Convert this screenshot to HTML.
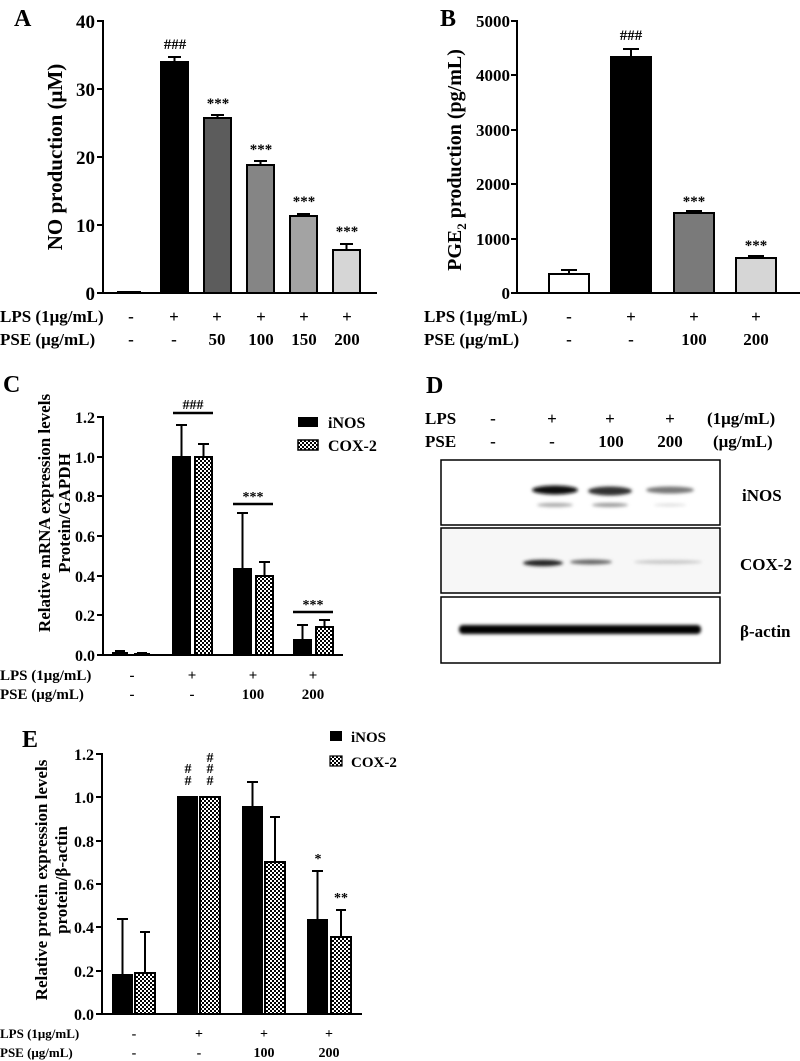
<!DOCTYPE html>
<html><head><meta charset="utf-8">
<style>
html,body{margin:0;padding:0;background:#fff;}
svg{display:block;}
text{font-family:"Liberation Serif",serif;font-weight:bold;fill:#000;}
</style></head>
<body>
<svg width="800" height="1061" viewBox="0 0 800 1061" xmlns="http://www.w3.org/2000/svg">
<defs>
<pattern id="chk" width="4" height="4" patternUnits="userSpaceOnUse">
<rect width="4" height="4" fill="#fff"/><rect width="2" height="2" fill="#000"/><rect x="2" y="2" width="2" height="2" fill="#000"/>
</pattern>
<filter id="bl" x="-10%" y="-100%" width="120%" height="300%"><feGaussianBlur stdDeviation="1.6"/></filter>
</defs>

<!-- ============ Panel A ============ -->
<text x="14" y="26" font-size="24">A</text>
<g stroke="#000" stroke-width="2" fill="none">
<line x1="103" y1="20" x2="103" y2="294"/>
<line x1="102" y1="293" x2="377" y2="293"/>
<line x1="97" y1="21" x2="103" y2="21"/><line x1="97" y1="89" x2="103" y2="89"/>
<line x1="97" y1="157" x2="103" y2="157"/><line x1="97" y1="225" x2="103" y2="225"/>
<line x1="97" y1="293" x2="103" y2="293"/>
</g>
<g font-size="19" text-anchor="end">
<text x="95" y="28">40</text><text x="95" y="96">30</text><text x="95" y="164">20</text><text x="95" y="232">10</text><text x="95" y="300">0</text>
</g>
<text transform="translate(62,157) rotate(-90)" font-size="21" text-anchor="middle">NO production (μM)</text>
<g stroke="#000" stroke-width="2">
<line x1="117" y1="292" x2="141" y2="292"/>
<rect x="161" y="62" width="27" height="231" fill="#000"/>
<rect x="204" y="118" width="27" height="175" fill="#5c5c5c"/>
<rect x="247" y="165" width="27" height="128" fill="#858585"/>
<rect x="290" y="216" width="27" height="77" fill="#a3a3a3"/>
<rect x="333" y="250" width="27" height="43" fill="#d6d6d6"/>
<path d="M174.5 62V57M168 57h13M217.5 118V115M211 115h13M260.5 165V161M254 161h13M303.5 216V214M297 214h13M346.5 250V244M340 244h13" fill="none"/>
</g>
<g font-size="15" text-anchor="middle">
<text x="175" y="49">###</text>
<text x="218" y="108">***</text><text x="261" y="154">***</text><text x="304" y="206">***</text><text x="347" y="236">***</text>
</g>
<g font-size="17">
<text x="0" y="322">LPS (1μg/mL)</text><text x="0" y="345">PSE (μg/mL)</text>
</g>
<g font-size="17" text-anchor="middle">
<text x="131" y="322">-</text><text x="174" y="322">+</text><text x="217" y="322">+</text><text x="261" y="322">+</text><text x="304" y="322">+</text><text x="347" y="322">+</text>
<text x="131" y="345">-</text><text x="174" y="345">-</text><text x="217" y="345">50</text><text x="261" y="345">100</text><text x="304" y="345">150</text><text x="347" y="345">200</text>
</g>

<!-- ============ Panel B ============ -->
<text x="440" y="26" font-size="24">B</text>
<g stroke="#000" stroke-width="2" fill="none">
<line x1="517" y1="20" x2="517" y2="294"/>
<line x1="516" y1="293" x2="800" y2="293"/>
<line x1="511" y1="21" x2="517" y2="21"/><line x1="511" y1="75" x2="517" y2="75"/>
<line x1="511" y1="130" x2="517" y2="130"/><line x1="511" y1="184" x2="517" y2="184"/>
<line x1="511" y1="239" x2="517" y2="239"/><line x1="511" y1="293" x2="517" y2="293"/>
</g>
<g font-size="17" text-anchor="end">
<text x="510" y="27">5000</text><text x="510" y="81">4000</text><text x="510" y="136">3000</text><text x="510" y="190">2000</text><text x="510" y="245">1000</text><text x="510" y="299">0</text>
</g>
<text transform="translate(461,160) rotate(-90)" font-size="20" text-anchor="middle">PGE<tspan font-size="13" dy="5">2</tspan><tspan dy="-5"> production (pg/mL)</tspan></text>
<g stroke="#000" stroke-width="2">
<rect x="549" y="274" width="40" height="19" fill="#fff"/>
<rect x="611" y="57" width="40" height="236" fill="#000"/>
<rect x="674" y="213" width="40" height="80" fill="#7a7a7a"/>
<rect x="736" y="258" width="40" height="35" fill="#d6d6d6"/>
<path d="M569 274V270M561 270h16M631 57V49M623 49h16M694 213V211M686 211h16M756 258V256M748 256h16" fill="none"/>
</g>
<g font-size="15" text-anchor="middle">
<text x="631" y="40">###</text><text x="694" y="206">***</text><text x="756" y="250">***</text>
</g>
<g font-size="17">
<text x="424" y="322">LPS (1μg/mL)</text><text x="424" y="345">PSE (μg/mL)</text>
</g>
<g font-size="17" text-anchor="middle">
<text x="569" y="322">-</text><text x="631" y="322">+</text><text x="694" y="322">+</text><text x="756" y="322">+</text>
<text x="569" y="345">-</text><text x="631" y="345">-</text><text x="694" y="345">100</text><text x="756" y="345">200</text>
</g>

<!-- ============ Panel C ============ -->
<text x="3" y="392" font-size="24">C</text>
<g stroke="#000" stroke-width="2" fill="none">
<line x1="103" y1="416" x2="103" y2="656"/>
<line x1="102" y1="655" x2="343" y2="655"/>
<line x1="97" y1="417" x2="103" y2="417"/><line x1="97" y1="457" x2="103" y2="457"/>
<line x1="97" y1="496" x2="103" y2="496"/><line x1="97" y1="536" x2="103" y2="536"/>
<line x1="97" y1="576" x2="103" y2="576"/><line x1="97" y1="615" x2="103" y2="615"/>
<line x1="97" y1="655" x2="103" y2="655"/>
</g>
<g font-size="16" text-anchor="end">
<text x="95" y="423">1.2</text><text x="95" y="463">1.0</text><text x="95" y="502">0.8</text><text x="95" y="542">0.6</text><text x="95" y="582">0.4</text><text x="95" y="621">0.2</text><text x="95" y="661">0.0</text>
</g>
<text transform="translate(50,513) rotate(-90)" font-size="17" text-anchor="middle">Relative mRNA expression levels</text>
<text transform="translate(70,513) rotate(-90)" font-size="17" text-anchor="middle">Protein/GAPDH</text>
<g stroke="#000" stroke-width="2">
<rect x="113" y="653" width="14" height="2" fill="#000"/>
<rect x="135" y="654" width="14" height="1" fill="url(#chk)"/>
<rect x="173" y="457" width="17" height="198" fill="#000"/>
<rect x="195" y="457" width="17" height="198" fill="url(#chk)"/>
<rect x="234" y="569" width="17" height="86" fill="#000"/>
<rect x="256" y="576" width="17" height="79" fill="url(#chk)"/>
<rect x="294" y="640" width="17" height="15" fill="#000"/>
<rect x="316" y="627" width="17" height="28" fill="url(#chk)"/>
<path d="M120 653V651M115 651h10M142 654V653M137 653h10M181.5 457V425M176 425h11M203.5 457V444M198 444h11M242.5 569V513M237 513h11M264.5 576V562M259 562h11M302.5 640V625M297 625h11M324.5 627V620M319 620h11" fill="none"/>
<path d="M173 413h40M233 504h40M293 612h40" stroke-width="2.5"/>
</g>
<g font-size="14" text-anchor="middle">
<text x="193" y="409">###</text><text x="253" y="501">***</text><text x="313" y="609">***</text>
</g>
<rect x="298" y="417" width="20" height="10" fill="#000"/>
<rect x="298" y="440" width="20" height="10" fill="url(#chk)" stroke="#000" stroke-width="1.5"/>
<text x="328" y="428" font-size="16">iNOS</text><text x="328" y="451" font-size="16">COX-2</text>
<g font-size="15">
<text x="0" y="680">LPS (1μg/mL)</text><text x="0" y="699">PSE (μg/mL)</text>
</g>
<g font-size="15" text-anchor="middle">
<text x="132" y="680">-</text><text x="192" y="680">+</text><text x="253" y="680">+</text><text x="313" y="680">+</text>
<text x="132" y="699">-</text><text x="192" y="699">-</text><text x="253" y="699">100</text><text x="313" y="699">200</text>
</g>

<!-- ============ Panel D ============ -->
<text x="426" y="393" font-size="24">D</text>
<g font-size="17">
<text x="425" y="424">LPS</text><text x="425" y="447">PSE</text>
<text x="707" y="424">(1μg/mL)</text><text x="713" y="447">(μg/mL)</text>
</g>
<g font-size="17" text-anchor="middle">
<text x="493" y="424">-</text><text x="552" y="424">+</text><text x="610" y="424">+</text><text x="670" y="424">+</text>
<text x="493" y="447">-</text><text x="552" y="447">-</text><text x="611" y="447">100</text><text x="670" y="447">200</text>
</g>
<rect x="441" y="460" width="279" height="65" fill="#fff" stroke="#000" stroke-width="1.5"/>
<rect x="441" y="528" width="279" height="65" fill="#f7f7f7" stroke="#000" stroke-width="1.5"/>
<rect x="441" y="597" width="279" height="66" fill="#fff" stroke="#000" stroke-width="1.5"/>
<g filter="url(#bl)">
<ellipse cx="555" cy="490" rx="23" ry="4.5" fill="#111"/>
<ellipse cx="610" cy="491" rx="22" ry="4.5" fill="#333"/>
<ellipse cx="670" cy="490" rx="24" ry="3.5" fill="#777"/>
<ellipse cx="555" cy="505" rx="18" ry="2" fill="#aaa"/>
<ellipse cx="610" cy="505" rx="18" ry="2" fill="#999"/>
<ellipse cx="670" cy="505" rx="16" ry="1.5" fill="#e0e0e0"/>
<ellipse cx="543" cy="563" rx="20" ry="3.2" fill="#222"/>
<ellipse cx="591" cy="562" rx="21" ry="2.5" fill="#666"/>
<ellipse cx="668" cy="562" rx="34" ry="2" fill="#c8c8c8"/>
<rect x="459" y="625" width="242" height="9" rx="4" fill="#000"/>
</g>
<g font-size="17">
<text x="742" y="501">iNOS</text><text x="740" y="570">COX-2</text><text x="740" y="637">β-actin</text>
</g>

<!-- ============ Panel E ============ -->
<text x="22" y="747" font-size="24">E</text>
<g stroke="#000" stroke-width="2" fill="none">
<line x1="102" y1="753" x2="102" y2="1015"/>
<line x1="101" y1="1014" x2="362" y2="1014"/>
<line x1="96" y1="754" x2="102" y2="754"/><line x1="96" y1="797" x2="102" y2="797"/>
<line x1="96" y1="841" x2="102" y2="841"/><line x1="96" y1="884" x2="102" y2="884"/>
<line x1="96" y1="927" x2="102" y2="927"/><line x1="96" y1="971" x2="102" y2="971"/>
<line x1="96" y1="1014" x2="102" y2="1014"/>
</g>
<g font-size="16" text-anchor="end">
<text x="94" y="760">1.2</text><text x="94" y="803">1.0</text><text x="94" y="847">0.8</text><text x="94" y="890">0.6</text><text x="94" y="933">0.4</text><text x="94" y="977">0.2</text><text x="94" y="1020">0.0</text>
</g>
<text transform="translate(47,880) rotate(-90)" font-size="17" text-anchor="middle">Relative protein expression levels</text>
<text transform="translate(67,880) rotate(-90)" font-size="17" text-anchor="middle">protein/β-actin</text>
<g stroke="#000" stroke-width="2">
<rect x="113" y="975" width="19" height="39" fill="#000"/>
<rect x="135" y="973" width="20" height="41" fill="url(#chk)"/>
<rect x="178" y="797" width="19" height="217" fill="#000"/>
<rect x="200" y="797" width="20" height="217" fill="url(#chk)"/>
<rect x="243" y="807" width="19" height="207" fill="#000"/>
<rect x="265" y="862" width="20" height="152" fill="url(#chk)"/>
<rect x="308" y="920" width="19" height="94" fill="#000"/>
<rect x="331" y="937" width="20" height="77" fill="url(#chk)"/>
<path d="M122.5 975V919M117 919h11M145 973V932M140 932h10M252.5 807V782M247 782h11M275 862V817M270 817h10M317.5 920V871M312 871h11M341 937V910M336 910h10" fill="none"/>
</g>
<g font-size="14" text-anchor="middle">
<text x="188" y="773">#</text><text x="188" y="785">#</text>
<text x="210" y="762">#</text><text x="210" y="773">#</text><text x="210" y="785">#</text>
<text x="318" y="863">*</text><text x="341" y="902">**</text>
</g>
<rect x="330" y="731" width="12" height="10" fill="#000"/>
<rect x="330" y="756" width="12" height="10" fill="url(#chk)" stroke="#000" stroke-width="1.2"/>
<text x="351" y="742" font-size="15">iNOS</text><text x="351" y="767" font-size="15">COX-2</text>
<g font-size="13">
<text x="0" y="1038">LPS (1μg/mL)</text><text x="0" y="1057">PSE (μg/mL)</text>
</g>
<g font-size="14" text-anchor="middle">
<text x="134" y="1038">-</text><text x="199" y="1038">+</text><text x="264" y="1038">+</text><text x="329" y="1038">+</text>
<text x="134" y="1057">-</text><text x="199" y="1057">-</text><text x="264" y="1057">100</text><text x="329" y="1057">200</text>
</g>
</svg>
</body></html>
